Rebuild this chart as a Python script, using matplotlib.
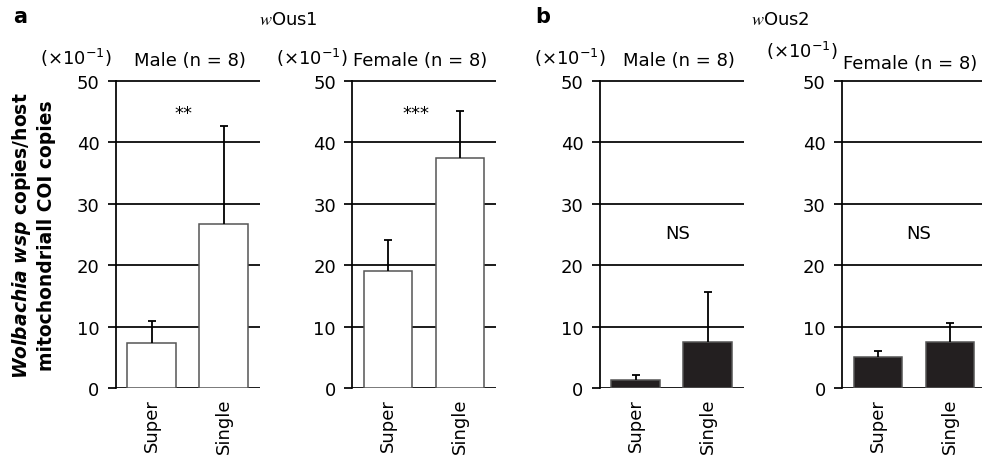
import matplotlib
matplotlib.use('Agg')
import matplotlib.pyplot as plt
import numpy as np

plt.rcParams['font.family'] = ['DejaVu Sans']
plt.rcParams['mathtext.fontset'] = 'dejavusans'

# ---------------- data ----------------
groups = ['Super', 'Single']
male_wOus1 = [7.4, 26.7]
male_wOus1_err = [3.5, 15.9]
female_wOus1 = [19.0, 37.5]
female_wOus1_err = [5.1, 7.6]
male_wOus2 = [1.35, 7.5]
male_wOus2_err = [0.75, 8.1]
female_wOus2 = [5.0, 7.5]
female_wOus2_err = [1.05, 3.05]
panel_titles = ['Male (n = 8)', 'Female (n = 8)', 'Male (n = 8)', 'Female (n = 8)']
sig_labels = ['**', '***', 'NS', 'NS']
yticks = [0, 10, 20, 30, 40, 50]

W, H = 982, 460
fig = plt.figure(figsize=(W / 100, H / 100), dpi=100)

def fx(px):
    return px / W

def fy(py):
    return 1 - py / H

FS = 13
TOP, BOT = 81, 389
lefts = [115.5, 352, 599.5, 841.7]
AXW = 144

panels = [
    (male_wOus1, male_wOus1_err, 'white'),
    (female_wOus1, female_wOus1_err, 'white'),
    (male_wOus2, male_wOus2_err, '#231f20'),
    (female_wOus2, female_wOus2_err, '#231f20'),
]
sig_pos = [(0.44, 44.0), (0.39, 44.0), (0.58, 24.5), (0.57, 24.5)]

x = np.arange(len(groups))
for i, (vals, errs, fill) in enumerate(panels):
    ax = fig.add_axes([fx(lefts[i]), fy(BOT), fx(AXW), (BOT - TOP) / H])
    ax.set_xlim(-0.5, 1.5)
    ax.set_ylim(0, 50.15)
    ax.set_axisbelow(True)
    ax.bar(x, vals, width=0.667, color=fill, edgecolor='#555555', linewidth=1.1, zorder=3)
    cont = ax.errorbar(x, vals, yerr=[np.zeros(len(vals)), errs], fmt='none',
                       ecolor='black', elinewidth=1.3, capsize=2.6, capthick=1.3, zorder=4)
    for cl in cont[1]:
        if np.allclose(cl.get_ydata(), vals):
            cl.set_visible(False)
    ax.set_yticks(yticks)
    ax.yaxis.grid(True, color='black', linewidth=1.25)
    for s in ['top', 'right', 'bottom']:
        ax.spines[s].set_visible(False)
    ax.spines['left'].set_linewidth(1.25)
    ax.spines['left'].set_bounds(0, 50)
    ax.tick_params(axis='y', direction='out', length=5.5, width=1.25, pad=6,
                   labelsize=FS, colors='black')
    ax.set_xticks(x)
    ax.set_xticklabels(groups, rotation=90, fontsize=FS)
    ax.tick_params(axis='x', length=0, pad=7)
    ax.text(sig_pos[i][0], sig_pos[i][1], sig_labels[i], ha='center', va='baseline',
            fontsize=FS)

# panel titles
title_x = [190, 420, 679, 910]
title_base = [66, 66, 66, 69]
for t, xx, yy in zip(panel_titles, title_x, title_base):
    fig.text(fx(xx), fy(yy), t, ha='center', va='baseline', fontsize=FS)

# unit labels
unit_x = [40, 276, 534, 766]
unit_base = [65, 65, 65, 58]
for xx, yy in zip(unit_x, unit_base):
    fig.text(fx(xx), fy(yy), r'(×10$^{-1}$)', ha='left', va='baseline', fontsize=FS)

# strain titles
fig.text(fx(288), fy(25), r'$w$Ous1', ha='center', va='baseline', fontsize=FS,
         math_fontfamily='stix')
fig.text(fx(780), fy(25), r'$w$Ous2', ha='center', va='baseline', fontsize=FS,
         math_fontfamily='stix')

# panel letters
fig.text(fx(13), fy(23), 'a', ha='left', va='baseline', fontsize=15, fontweight='bold')
fig.text(fx(535), fy(23), 'b', ha='left', va='baseline', fontsize=15, fontweight='bold')

# y label (two lines)
fig.text(fx(22), fy(236), r'$\mathbfit{Wolbachia\ wsp}$ copies/host', rotation=90,
         ha='center', va='center', fontsize=13.5, fontweight='bold')
fig.text(fx(47), fy(236), 'mitochondriall COI copies', rotation=90,
         ha='center', va='center', fontsize=13.5, fontweight='bold')

fig.savefig('out.png', dpi=100)
